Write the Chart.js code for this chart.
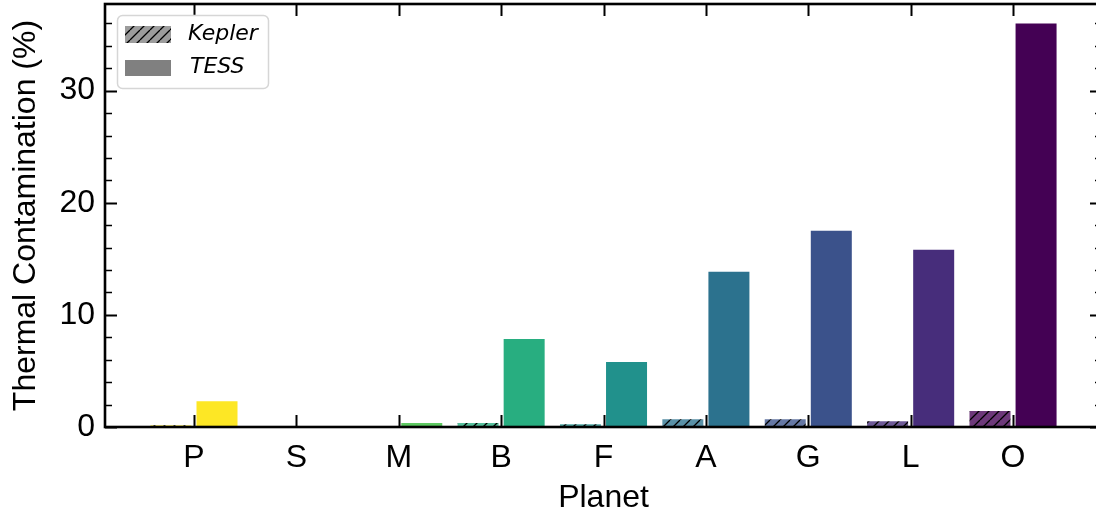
<!DOCTYPE html>
<html><head><meta charset="utf-8">
<script src="https://cdn.jsdelivr.net/npm/chart.js@4"></script>
<style>html,body{margin:0;padding:0;background:#fff;overflow:hidden;width:1096px;height:512px;}</style>
</head><body>
<canvas id="c" width="1104" height="512" style="display:block;width:1104px;height:512px"></canvas>
<script>
const planets = ['P', 'S', 'M', 'B', 'F', 'A', 'G', 'L', 'O'];
const keplerValues = [0.15, 0.02, 0.02, 0.35, 0.25, 0.7, 0.7, 0.52, 1.42];
const tessValues = [2.3, 0.06, 0.36, 7.85, 5.8, 13.85, 17.5, 15.8, 36.0];
const barColors = ['#fde725', '#addc30', '#5ec962', '#28ae80', '#21918c', '#2c728e', '#3b528b', '#472d7b', '#440154'];
const yMajorTicks = [0, 10, 20, 30];
const seriesNames = ['Kepler', 'TESS'];

const FONT = 'Liberation Sans, Arial, sans-serif';
const canvas = document.getElementById('c');
const ctx = canvas.getContext('2d');

function withAlpha(hex, a) {
  const n = parseInt(hex.slice(1), 16);
  return `rgba(${(n >> 16) & 255},${(n >> 8) & 255},${n & 255},${a})`;
}
function hatch(color) {
  const t = document.createElement('canvas');
  t.width = 10; t.height = 10;
  const g = t.getContext('2d');
  g.fillStyle = color; g.fillRect(0, 0, 10, 10);
  g.strokeStyle = '#000'; g.lineWidth = 1.3;
  g.beginPath();
  for (const o of [-10, 0, 10]) { g.moveTo(o, 10); g.lineTo(o + 10, 0); }
  g.stroke();
  return ctx.createPattern(t, 'repeat');
}

const KEPLER_ALPHA = 0.78;
const keplerFill = barColors.map(c => hatch(withAlpha(c, KEPLER_ALPHA)));

const framePlugin = {
  id: 'frame',
  afterDatasetsDraw(chart) {
    const c = chart.ctx, a = chart.chartArea;
    const xs = chart.scales.x, ys = chart.scales.y;
    c.save();
    c.strokeStyle = '#000';
    for (let v = 0; v <= ys.max; v += 2) {
      const y = Math.round(ys.getPixelForValue(v)) + 0.5;
      const major = yMajorTicks.includes(v);
      const len = major ? 12 : 7;
      c.lineWidth = major ? 2 : 1.5;
      c.beginPath();
      c.moveTo(a.left, y); c.lineTo(a.left + len, y);
      c.moveTo(a.right, y); c.lineTo(a.right - len, y);
      c.stroke();
    }
    c.lineWidth = 2;
    planets.forEach((p, i) => {
      const x = Math.round(xs.getPixelForValue(i)) + 0.5;
      c.beginPath();
      c.moveTo(x, a.bottom); c.lineTo(x, a.bottom - 12);
      c.moveTo(x, a.top); c.lineTo(x, a.top + 12);
      c.stroke();
    });
    c.lineWidth = 2.6;
    c.strokeRect(a.left, a.top, a.right - a.left, a.bottom - a.top);
    // legend
    const lx = 117.5, ly = 15.5, lw = 151, lh = 73, r = 5;
    c.beginPath();
    c.moveTo(lx + r, ly);
    c.arcTo(lx + lw, ly, lx + lw, ly + lh, r);
    c.arcTo(lx + lw, ly + lh, lx, ly + lh, r);
    c.arcTo(lx, ly + lh, lx, ly, r);
    c.arcTo(lx, ly, lx + lw, ly, r);
    c.closePath();
    c.fillStyle = 'rgba(255,255,255,0.8)';
    c.fill();
    c.lineWidth = 1.5;
    c.strokeStyle = '#d6d6d6';
    c.stroke();
    c.fillStyle = hatch(withAlpha('#808080', KEPLER_ALPHA));
    c.fillRect(125, 26, 46, 17);
    c.fillStyle = '#808080';
    c.fillRect(125, 60, 46, 16);
    c.fillStyle = '#000';
    c.font = 'oblique 22px "DejaVu Sans", sans-serif';
    c.textBaseline = 'middle';
    c.textAlign = 'left';
    c.fillText(seriesNames[0], 188, 34);
    c.fillText(seriesNames[1], 190, 67);
    c.restore();
  }
};

new Chart(canvas, {
  type: 'bar',
  data: {
    datasets: [
      { label: seriesNames[0], data: keplerValues.map((v, i) => ({ x: i, y: v })), backgroundColor: keplerFill, borderWidth: 0 },
      { label: seriesNames[1], data: tessValues.map((v, i) => ({ x: i, y: v })), backgroundColor: barColors, borderWidth: 0 }
    ]
  },
  options: {
    responsive: false,
    animation: false,
    devicePixelRatio: 1,
    layout: { padding: { top: 4, left: 0, right: 2, bottom: 0 } },
    datasets: { bar: { categoryPercentage: 0.9, barPercentage: 0.89 } },
    plugins: { legend: { display: false }, tooltip: { enabled: false } },
    scales: {
      x: {
        type: 'linear',
        offset: false,
        min: -0.869, max: 8.869,
        afterBuildTicks: s => { s.ticks = planets.map((p, i) => ({ value: i })); },
        afterFit: s => { s.height = 85; s.paddingLeft = 0; s.paddingRight = 0; },
        grid: { display: false, drawTicks: false, offset: false },
        border: { display: false },
        ticks: { callback: v => planets[v], font: { size: 32, family: FONT }, color: '#000', padding: 12, maxRotation: 0, autoSkip: false },
        title: { display: true, text: 'Planet', font: { size: 32, family: FONT }, color: '#000', padding: { top: -5, bottom: -5 } }
      },
      y: {
        min: 0, max: 37.73,
        afterBuildTicks: s => { s.ticks = yMajorTicks.map(v => ({ value: v })); },
        afterFit: s => { s.width = 105; s.paddingTop = 0; s.paddingBottom = 0; },
        grid: { display: false, drawTicks: false },
        border: { display: false },
        ticks: { font: { size: 32, family: FONT }, color: '#000', padding: 10 },
        title: { display: true, text: 'Thermal Contamination (%)', font: { size: 32, family: FONT }, color: '#000', padding: { top: 7, bottom: 0 } }
      }
    }
  },
  plugins: [framePlugin]
});
</script>
</body></html>
